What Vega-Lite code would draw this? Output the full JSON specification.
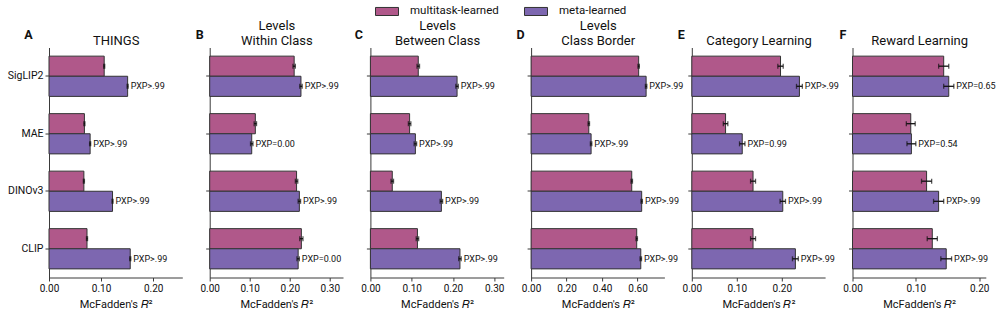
{
  "$schema": "https://vega.github.io/schema/vega-lite/v6.json",
  "padding": {"left": 7, "top": -1.5, "right": 6, "bottom": 4},
  "bounds": "flush",
  "spacing": 26.7,
  "datasets": {
    "fits": [
      {"panel": "A", "model": "SigLIP2", "group": "multitask-learned", "value": 0.106, "lo": 0.105, "hi": 0.107, "label": null},
      {"panel": "A", "model": "SigLIP2", "group": "meta-learned", "value": 0.151, "lo": 0.150, "hi": 0.152, "label": "PXP>.99"},
      {"panel": "A", "model": "MAE", "group": "multitask-learned", "value": 0.068, "lo": 0.067, "hi": 0.069, "label": null},
      {"panel": "A", "model": "MAE", "group": "meta-learned", "value": 0.079, "lo": 0.078, "hi": 0.080, "label": "PXP>.99"},
      {"panel": "A", "model": "DINOv3", "group": "multitask-learned", "value": 0.067, "lo": 0.066, "hi": 0.068, "label": null},
      {"panel": "A", "model": "DINOv3", "group": "meta-learned", "value": 0.122, "lo": 0.121, "hi": 0.123, "label": "PXP>.99"},
      {"panel": "A", "model": "CLIP", "group": "multitask-learned", "value": 0.073, "lo": 0.072, "hi": 0.074, "label": null},
      {"panel": "A", "model": "CLIP", "group": "meta-learned", "value": 0.156, "lo": 0.155, "hi": 0.157, "label": "PXP>.99"},

      {"panel": "B", "model": "SigLIP2", "group": "multitask-learned", "value": 0.211, "lo": 0.208, "hi": 0.214, "label": null},
      {"panel": "B", "model": "SigLIP2", "group": "meta-learned", "value": 0.228, "lo": 0.225, "hi": 0.231, "label": "PXP>.99"},
      {"panel": "B", "model": "MAE", "group": "multitask-learned", "value": 0.114, "lo": 0.111, "hi": 0.117, "label": null},
      {"panel": "B", "model": "MAE", "group": "meta-learned", "value": 0.105, "lo": 0.102, "hi": 0.108, "label": "PXP=0.00"},
      {"panel": "B", "model": "DINOv3", "group": "multitask-learned", "value": 0.217, "lo": 0.214, "hi": 0.220, "label": null},
      {"panel": "B", "model": "DINOv3", "group": "meta-learned", "value": 0.224, "lo": 0.221, "hi": 0.227, "label": "PXP>.99"},
      {"panel": "B", "model": "CLIP", "group": "multitask-learned", "value": 0.229, "lo": 0.225, "hi": 0.233, "label": null},
      {"panel": "B", "model": "CLIP", "group": "meta-learned", "value": 0.221, "lo": 0.218, "hi": 0.224, "label": "PXP=0.00"},

      {"panel": "C", "model": "SigLIP2", "group": "multitask-learned", "value": 0.116, "lo": 0.113, "hi": 0.119, "label": null},
      {"panel": "C", "model": "SigLIP2", "group": "meta-learned", "value": 0.210, "lo": 0.207, "hi": 0.213, "label": "PXP>.99"},
      {"panel": "C", "model": "MAE", "group": "multitask-learned", "value": 0.095, "lo": 0.092, "hi": 0.098, "label": null},
      {"panel": "C", "model": "MAE", "group": "meta-learned", "value": 0.109, "lo": 0.106, "hi": 0.112, "label": "PXP>.99"},
      {"panel": "C", "model": "DINOv3", "group": "multitask-learned", "value": 0.053, "lo": 0.050, "hi": 0.056, "label": null},
      {"panel": "C", "model": "DINOv3", "group": "meta-learned", "value": 0.172, "lo": 0.169, "hi": 0.175, "label": "PXP>.99"},
      {"panel": "C", "model": "CLIP", "group": "multitask-learned", "value": 0.114, "lo": 0.111, "hi": 0.117, "label": null},
      {"panel": "C", "model": "CLIP", "group": "meta-learned", "value": 0.217, "lo": 0.214, "hi": 0.220, "label": "PXP>.99"},

      {"panel": "D", "model": "SigLIP2", "group": "multitask-learned", "value": 0.606, "lo": 0.602, "hi": 0.610, "label": null},
      {"panel": "D", "model": "SigLIP2", "group": "meta-learned", "value": 0.648, "lo": 0.644, "hi": 0.652, "label": "PXP>.99"},
      {"panel": "D", "model": "MAE", "group": "multitask-learned", "value": 0.325, "lo": 0.321, "hi": 0.329, "label": null},
      {"panel": "D", "model": "MAE", "group": "meta-learned", "value": 0.338, "lo": 0.334, "hi": 0.342, "label": "PXP>.99"},
      {"panel": "D", "model": "DINOv3", "group": "multitask-learned", "value": 0.567, "lo": 0.563, "hi": 0.571, "label": null},
      {"panel": "D", "model": "DINOv3", "group": "meta-learned", "value": 0.623, "lo": 0.619, "hi": 0.627, "label": "PXP>.99"},
      {"panel": "D", "model": "CLIP", "group": "multitask-learned", "value": 0.595, "lo": 0.591, "hi": 0.599, "label": null},
      {"panel": "D", "model": "CLIP", "group": "meta-learned", "value": 0.618, "lo": 0.614, "hi": 0.622, "label": "PXP>.99"},

      {"panel": "E", "model": "SigLIP2", "group": "multitask-learned", "value": 0.197, "lo": 0.191, "hi": 0.203, "label": null},
      {"panel": "E", "model": "SigLIP2", "group": "meta-learned", "value": 0.239, "lo": 0.2325, "hi": 0.2455, "label": "PXP>.99"},
      {"panel": "E", "model": "MAE", "group": "multitask-learned", "value": 0.075, "lo": 0.070, "hi": 0.080, "label": null},
      {"panel": "E", "model": "MAE", "group": "meta-learned", "value": 0.112, "lo": 0.106, "hi": 0.118, "label": "PXP=0.99"},
      {"panel": "E", "model": "DINOv3", "group": "multitask-learned", "value": 0.136, "lo": 0.1305, "hi": 0.1415, "label": null},
      {"panel": "E", "model": "DINOv3", "group": "meta-learned", "value": 0.202, "lo": 0.196, "hi": 0.208, "label": "PXP>.99"},
      {"panel": "E", "model": "CLIP", "group": "multitask-learned", "value": 0.136, "lo": 0.1305, "hi": 0.1415, "label": null},
      {"panel": "E", "model": "CLIP", "group": "meta-learned", "value": 0.230, "lo": 0.2235, "hi": 0.2365, "label": "PXP>.99"},

      {"panel": "F", "model": "SigLIP2", "group": "multitask-learned", "value": 0.144, "lo": 0.136, "hi": 0.152, "label": null},
      {"panel": "F", "model": "SigLIP2", "group": "meta-learned", "value": 0.152, "lo": 0.144, "hi": 0.160, "label": "PXP=0.65"},
      {"panel": "F", "model": "MAE", "group": "multitask-learned", "value": 0.092, "lo": 0.085, "hi": 0.099, "label": null},
      {"panel": "F", "model": "MAE", "group": "meta-learned", "value": 0.093, "lo": 0.086, "hi": 0.100, "label": "PXP=0.54"},
      {"panel": "F", "model": "DINOv3", "group": "multitask-learned", "value": 0.117, "lo": 0.109, "hi": 0.125, "label": null},
      {"panel": "F", "model": "DINOv3", "group": "meta-learned", "value": 0.136, "lo": 0.128, "hi": 0.144, "label": "PXP>.99"},
      {"panel": "F", "model": "CLIP", "group": "multitask-learned", "value": 0.126, "lo": 0.118, "hi": 0.134, "label": null},
      {"panel": "F", "model": "CLIP", "group": "meta-learned", "value": 0.148, "lo": 0.1395, "hi": 0.1565, "label": "PXP>.99"}
    ]
  },
  "hconcat": [
    {
      "width": 133.3, "height": 230,
      "data": {"name": "fits"},
      "transform": [{"filter": "datum.panel === 'A'"}],
      "resolve": {"axis": {"x": "independent"}},
      "encoding": {
        "y": {"field": "model", "type": "nominal", "sort": ["SigLIP2", "MAE", "DINOv3", "CLIP"],
              "scale": {"paddingInner": 0.3, "paddingOuter": 0.15},
              "axis": {"title": "A", "titleX": -21, "titleY": -9, "labels": true}},
        "yOffset": {"field": "group", "type": "nominal", "sort": ["multitask-learned", "meta-learned"], "scale": {"paddingInner": 0, "paddingOuter": 0}}
      },
      "layer": [
        {"mark": {"type": "bar", "stroke": "#333333", "strokeWidth": 1},
         "encoding": {
           "x": {"field": "value", "type": "quantitative", "scale": {"domain": [0, 0.256], "nice": false, "zero": true},
                 "axis": {"orient": "bottom", "values": [0, 0.1, 0.2], "title": "McFadden's 𝑅²"}},
           "color": {"field": "group", "type": "nominal", "scale": {"domain": ["multitask-learned", "meta-learned"], "range": ["#b0588a", "#7d67b0"]}, "legend": {"title": null}}}},
        {"mark": {"type": "rule", "color": "#111111", "strokeWidth": 1.3},
         "encoding": {"x": {"field": "lo", "type": "quantitative",
                            "axis": {"orient": "top", "labels": false, "ticks": false, "domain": false, "title": ["", "THINGS"], "titleX": 66.65, "titleY": -17.7,
                                     "titleBaseline": "alphabetic", "titleAlign": "center", "titleAngle": 0, "titleLineHeight": 15, "titleFontSize": 13, "titleFontWeight": "normal"}},
                      "x2": {"field": "hi"}}},
        {"mark": {"type": "tick", "color": "#111111", "thickness": 1.3, "size": 5}, "encoding": {"x": {"field": "lo", "type": "quantitative", "axis": null}}},
        {"mark": {"type": "tick", "color": "#111111", "thickness": 1.3, "size": 5}, "encoding": {"x": {"field": "hi", "type": "quantitative", "axis": null}}},
        {"transform": [{"filter": "datum.label != null"}],
         "mark": {"type": "text", "align": "left", "baseline": "middle", "dx": 2.5, "fontSize": 9, "color": "#111111"},
         "encoding": {"x": {"field": "hi", "type": "quantitative", "axis": null}, "text": {"field": "label"}}}
      ]
    },
    {
      "width": 133.3, "height": 230,
      "data": {"name": "fits"},
      "transform": [{"filter": "datum.panel === 'B'"}],
      "resolve": {"axis": {"x": "independent"}},
      "encoding": {
        "y": {"field": "model", "type": "nominal", "sort": ["SigLIP2", "MAE", "DINOv3", "CLIP"],
              "scale": {"paddingInner": 0.3, "paddingOuter": 0.15},
              "axis": {"title": "B", "titleX": -10.5, "titleY": -9, "labels": false}},
        "yOffset": {"field": "group", "type": "nominal", "sort": ["multitask-learned", "meta-learned"], "scale": {"paddingInner": 0, "paddingOuter": 0}}
      },
      "layer": [
        {"mark": {"type": "bar", "stroke": "#333333", "strokeWidth": 1},
         "encoding": {
           "x": {"field": "value", "type": "quantitative", "scale": {"domain": [0, 0.333], "nice": false, "zero": true},
                 "axis": {"orient": "bottom", "values": [0, 0.1, 0.2, 0.3], "title": "McFadden's 𝑅²"}},
           "color": {"field": "group", "type": "nominal", "scale": {"domain": ["multitask-learned", "meta-learned"], "range": ["#b0588a", "#7d67b0"]}, "legend": {"title": null}}}},
        {"mark": {"type": "rule", "color": "#111111", "strokeWidth": 1.3},
         "encoding": {"x": {"field": "lo", "type": "quantitative",
                            "axis": {"orient": "top", "labels": false, "ticks": false, "domain": false, "title": ["Levels", "Within Class"], "titleX": 66.65, "titleY": -17.7,
                                     "titleBaseline": "alphabetic", "titleAlign": "center", "titleAngle": 0, "titleLineHeight": 15, "titleFontSize": 13, "titleFontWeight": "normal"}},
                      "x2": {"field": "hi"}}},
        {"mark": {"type": "tick", "color": "#111111", "thickness": 1.3, "size": 5}, "encoding": {"x": {"field": "lo", "type": "quantitative", "axis": null}}},
        {"mark": {"type": "tick", "color": "#111111", "thickness": 1.3, "size": 5}, "encoding": {"x": {"field": "hi", "type": "quantitative", "axis": null}}},
        {"transform": [{"filter": "datum.label != null"}],
         "mark": {"type": "text", "align": "left", "baseline": "middle", "dx": 2.5, "fontSize": 9, "color": "#111111"},
         "encoding": {"x": {"field": "hi", "type": "quantitative", "axis": null}, "text": {"field": "label"}}}
      ]
    },
    {
      "width": 133.3, "height": 230,
      "data": {"name": "fits"},
      "transform": [{"filter": "datum.panel === 'C'"}],
      "resolve": {"axis": {"x": "independent"}},
      "encoding": {
        "y": {"field": "model", "type": "nominal", "sort": ["SigLIP2", "MAE", "DINOv3", "CLIP"],
              "scale": {"paddingInner": 0.3, "paddingOuter": 0.15},
              "axis": {"title": "C", "titleX": -12, "titleY": -9, "labels": false}},
        "yOffset": {"field": "group", "type": "nominal", "sort": ["multitask-learned", "meta-learned"], "scale": {"paddingInner": 0, "paddingOuter": 0}}
      },
      "layer": [
        {"mark": {"type": "bar", "stroke": "#333333", "strokeWidth": 1},
         "encoding": {
           "x": {"field": "value", "type": "quantitative", "scale": {"domain": [0, 0.323], "nice": false, "zero": true},
                 "axis": {"orient": "bottom", "values": [0, 0.1, 0.2, 0.3], "title": "McFadden's 𝑅²"}},
           "color": {"field": "group", "type": "nominal", "scale": {"domain": ["multitask-learned", "meta-learned"], "range": ["#b0588a", "#7d67b0"]}, "legend": {"title": null}}}},
        {"mark": {"type": "rule", "color": "#111111", "strokeWidth": 1.3},
         "encoding": {"x": {"field": "lo", "type": "quantitative",
                            "axis": {"orient": "top", "labels": false, "ticks": false, "domain": false, "title": ["Levels", "Between Class"], "titleX": 66.65, "titleY": -17.7,
                                     "titleBaseline": "alphabetic", "titleAlign": "center", "titleAngle": 0, "titleLineHeight": 15, "titleFontSize": 13, "titleFontWeight": "normal"}},
                      "x2": {"field": "hi"}}},
        {"mark": {"type": "tick", "color": "#111111", "thickness": 1.3, "size": 5}, "encoding": {"x": {"field": "lo", "type": "quantitative", "axis": null}}},
        {"mark": {"type": "tick", "color": "#111111", "thickness": 1.3, "size": 5}, "encoding": {"x": {"field": "hi", "type": "quantitative", "axis": null}}},
        {"transform": [{"filter": "datum.label != null"}],
         "mark": {"type": "text", "align": "left", "baseline": "middle", "dx": 2.5, "fontSize": 9, "color": "#111111"},
         "encoding": {"x": {"field": "hi", "type": "quantitative", "axis": null}, "text": {"field": "label"}}}
      ]
    },
    {
      "width": 133.3, "height": 230,
      "data": {"name": "fits"},
      "transform": [{"filter": "datum.panel === 'D'"}],
      "resolve": {"axis": {"x": "independent"}},
      "encoding": {
        "y": {"field": "model", "type": "nominal", "sort": ["SigLIP2", "MAE", "DINOv3", "CLIP"],
              "scale": {"paddingInner": 0.3, "paddingOuter": 0.15},
              "axis": {"title": "D", "titleX": -11, "titleY": -9, "labels": false}},
        "yOffset": {"field": "group", "type": "nominal", "sort": ["multitask-learned", "meta-learned"], "scale": {"paddingInner": 0, "paddingOuter": 0}}
      },
      "layer": [
        {"mark": {"type": "bar", "stroke": "#333333", "strokeWidth": 1},
         "encoding": {
           "x": {"field": "value", "type": "quantitative", "scale": {"domain": [0, 0.751], "nice": false, "zero": true},
                 "axis": {"orient": "bottom", "values": [0, 0.2, 0.4, 0.6], "title": "McFadden's 𝑅²"}},
           "color": {"field": "group", "type": "nominal", "scale": {"domain": ["multitask-learned", "meta-learned"], "range": ["#b0588a", "#7d67b0"]}, "legend": {"title": null}}}},
        {"mark": {"type": "rule", "color": "#111111", "strokeWidth": 1.3},
         "encoding": {"x": {"field": "lo", "type": "quantitative",
                            "axis": {"orient": "top", "labels": false, "ticks": false, "domain": false, "title": ["Levels", "Class Border"], "titleX": 66.65, "titleY": -17.7,
                                     "titleBaseline": "alphabetic", "titleAlign": "center", "titleAngle": 0, "titleLineHeight": 15, "titleFontSize": 13, "titleFontWeight": "normal"}},
                      "x2": {"field": "hi"}}},
        {"mark": {"type": "tick", "color": "#111111", "thickness": 1.3, "size": 5}, "encoding": {"x": {"field": "lo", "type": "quantitative", "axis": null}}},
        {"mark": {"type": "tick", "color": "#111111", "thickness": 1.3, "size": 5}, "encoding": {"x": {"field": "hi", "type": "quantitative", "axis": null}}},
        {"transform": [{"filter": "datum.label != null"}],
         "mark": {"type": "text", "align": "left", "baseline": "middle", "dx": 2.5, "fontSize": 9, "color": "#111111"},
         "encoding": {"x": {"field": "hi", "type": "quantitative", "axis": null}, "text": {"field": "label"}}}
      ]
    },
    {
      "width": 133.3, "height": 230,
      "data": {"name": "fits"},
      "transform": [{"filter": "datum.panel === 'E'"}],
      "resolve": {"axis": {"x": "independent"}},
      "encoding": {
        "y": {"field": "model", "type": "nominal", "sort": ["SigLIP2", "MAE", "DINOv3", "CLIP"],
              "scale": {"paddingInner": 0.3, "paddingOuter": 0.15},
              "axis": {"title": "E", "titleX": -11, "titleY": -9, "labels": false}},
        "yOffset": {"field": "group", "type": "nominal", "sort": ["multitask-learned", "meta-learned"], "scale": {"paddingInner": 0, "paddingOuter": 0}}
      },
      "layer": [
        {"mark": {"type": "bar", "stroke": "#333333", "strokeWidth": 1},
         "encoding": {
           "x": {"field": "value", "type": "quantitative", "scale": {"domain": [0, 0.296], "nice": false, "zero": true},
                 "axis": {"orient": "bottom", "values": [0, 0.1, 0.2], "title": "McFadden's 𝑅²"}},
           "color": {"field": "group", "type": "nominal", "scale": {"domain": ["multitask-learned", "meta-learned"], "range": ["#b0588a", "#7d67b0"]}, "legend": {"title": null}}}},
        {"mark": {"type": "rule", "color": "#111111", "strokeWidth": 1.3},
         "encoding": {"x": {"field": "lo", "type": "quantitative",
                            "axis": {"orient": "top", "labels": false, "ticks": false, "domain": false, "title": ["", "Category Learning"], "titleX": 66.65, "titleY": -17.7,
                                     "titleBaseline": "alphabetic", "titleAlign": "center", "titleAngle": 0, "titleLineHeight": 15, "titleFontSize": 13, "titleFontWeight": "normal"}},
                      "x2": {"field": "hi"}}},
        {"mark": {"type": "tick", "color": "#111111", "thickness": 1.3, "size": 5}, "encoding": {"x": {"field": "lo", "type": "quantitative", "axis": null}}},
        {"mark": {"type": "tick", "color": "#111111", "thickness": 1.3, "size": 5}, "encoding": {"x": {"field": "hi", "type": "quantitative", "axis": null}}},
        {"transform": [{"filter": "datum.label != null"}],
         "mark": {"type": "text", "align": "left", "baseline": "middle", "dx": 2.5, "fontSize": 9, "color": "#111111"},
         "encoding": {"x": {"field": "hi", "type": "quantitative", "axis": null}, "text": {"field": "label"}}}
      ]
    },
    {
      "width": 133.3, "height": 230,
      "data": {"name": "fits"},
      "transform": [{"filter": "datum.panel === 'F'"}],
      "resolve": {"axis": {"x": "independent"}},
      "encoding": {
        "y": {"field": "model", "type": "nominal", "sort": ["SigLIP2", "MAE", "DINOv3", "CLIP"],
              "scale": {"paddingInner": 0.3, "paddingOuter": 0.15},
              "axis": {"title": "F", "titleX": -10, "titleY": -9, "labels": false}},
        "yOffset": {"field": "group", "type": "nominal", "sort": ["multitask-learned", "meta-learned"], "scale": {"paddingInner": 0, "paddingOuter": 0}}
      },
      "layer": [
        {"mark": {"type": "bar", "stroke": "#333333", "strokeWidth": 1},
         "encoding": {
           "x": {"field": "value", "type": "quantitative", "scale": {"domain": [0, 0.2105], "nice": false, "zero": true},
                 "axis": {"orient": "bottom", "values": [0, 0.1, 0.2], "title": "McFadden's 𝑅²"}},
           "color": {"field": "group", "type": "nominal", "scale": {"domain": ["multitask-learned", "meta-learned"], "range": ["#b0588a", "#7d67b0"]}, "legend": {"title": null}}}},
        {"mark": {"type": "rule", "color": "#111111", "strokeWidth": 1.3},
         "encoding": {"x": {"field": "lo", "type": "quantitative",
                            "axis": {"orient": "top", "labels": false, "ticks": false, "domain": false, "title": ["", "Reward Learning"], "titleX": 66.65, "titleY": -17.7,
                                     "titleBaseline": "alphabetic", "titleAlign": "center", "titleAngle": 0, "titleLineHeight": 15, "titleFontSize": 13, "titleFontWeight": "normal"}},
                      "x2": {"field": "hi"}}},
        {"mark": {"type": "tick", "color": "#111111", "thickness": 1.3, "size": 5}, "encoding": {"x": {"field": "lo", "type": "quantitative", "axis": null}}},
        {"mark": {"type": "tick", "color": "#111111", "thickness": 1.3, "size": 5}, "encoding": {"x": {"field": "hi", "type": "quantitative", "axis": null}}},
        {"transform": [{"filter": "datum.label != null"}],
         "mark": {"type": "text", "align": "left", "baseline": "middle", "dx": 2.5, "fontSize": 9, "color": "#111111"},
         "encoding": {"x": {"field": "hi", "type": "quantitative", "axis": null}, "text": {"field": "label"}}}
      ]
    }
  ],
  "config": {
    "font": "Roboto",
    "view": {"stroke": null},
    "axis": {"grid": false, "domainColor": "#3a3a3a", "domainWidth": 1, "tickColor": "#3a3a3a", "labelColor": "#111111", "titleColor": "#111111"},
    "axisBottom": {"format": ".2f", "labelFontSize": 10, "labelPadding": 2.5, "labelFlush": false, "labelOverlap": false, "tickSize": 3.5,
                   "titleFontSize": 11, "titleFontWeight": "normal", "titlePadding": 5},
    "axisY": {"labelFontSize": 10.5, "labelPadding": 2, "tickSize": 4, "titleAngle": 0, "titleFontSize": 12.5, "titleFontWeight": "bold",
              "titleAlign": "center", "titleBaseline": "alphabetic"},
    "legend": {"orient": "none", "legendX": 326, "legendY": -48.5, "direction": "horizontal",
               "symbolType": "M-1,-0.35H1V0.35H-1Z", "symbolSize": 529, "symbolStrokeColor": "#333333", "symbolStrokeWidth": 1, "symbolOpacity": 1,
               "labelFontSize": 11.5, "labelColor": "#111111", "labelOffset": 11, "columnPadding": 23}
  }
}
